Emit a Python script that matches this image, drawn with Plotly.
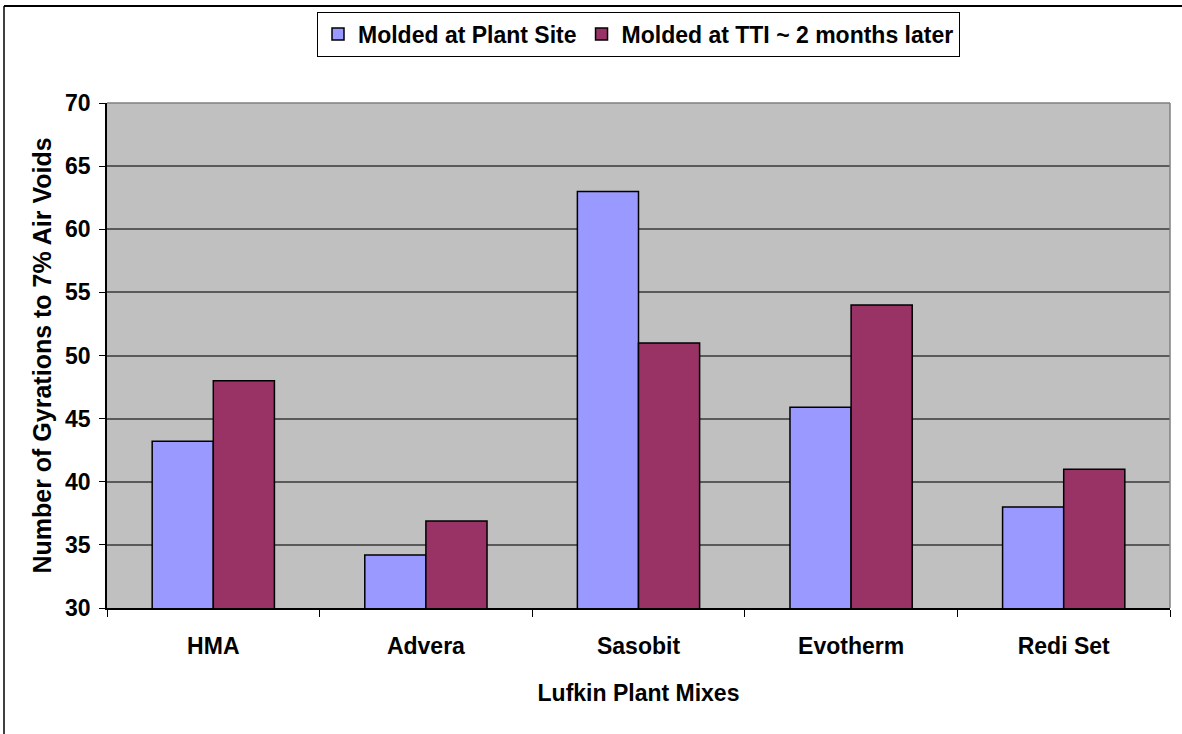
import plotly.graph_objects as go

categories = ["HMA", "Advera", "Sasobit", "Evotherm", "Redi Set"]
plant_site = [43.2, 34.2, 63.0, 45.9, 38.0]
tti_later = [48.0, 36.9, 51.0, 54.0, 41.0]
series_names = ["Molded at Plant Site", "Molded at TTI ~ 2 months later"]
y_ticks = [30, 35, 40, 45, 50, 55, 60, 65, 70]

FONT = "Liberation Sans, Arial, sans-serif"
FS = 23

L, R, T, B = 107, 12, 103, 126
WIDTH, HEIGHT = 1182, 734

fig = go.Figure()
fig.add_trace(go.Bar(x=categories, y=plant_site, name=series_names[0],
                     marker=dict(color="#9999FF", line=dict(color="black", width=1.5))))
fig.add_trace(go.Bar(x=categories, y=tti_later, name=series_names[1],
                     marker=dict(color="#993366", line=dict(color="black", width=1.5))))

fig.update_layout(
    width=WIDTH, height=HEIGHT,
    margin=dict(l=L, r=R, t=T, b=B, autoexpand=False),
    paper_bgcolor="white", plot_bgcolor="#C0C0C0",
    barmode="group", bargap=0.425, bargroupgap=0,
    font=dict(family=FONT, size=FS, color="black"),
    legend=dict(orientation="h", x=0.5, xanchor="center",
                yref="container", y=1 - 34 / HEIGHT, yanchor="middle",
                bordercolor="black", borderwidth=1, bgcolor="white",
                font=dict(family=FONT, size=FS, color="black", weight="bold"),
                itemwidth=30, tracegroupgap=0),
    showlegend=True,
)
fig.update_xaxes(
    type="category", tickson="boundaries", ticks="outside", ticklen=7, tickcolor="black",
    showline=True, linecolor="black", linewidth=1.5, mirror=False, showgrid=False,
    automargin=True, ticklabelstandoff=17,
    tickfont=dict(family=FONT, size=FS, color="black", weight="bold"),
    title=dict(text="<b>Lufkin Plant Mixes</b>", font=dict(family=FONT, size=FS), standoff=27),
)
fig.update_yaxes(
    range=[30, 70], tickvals=y_ticks, ticks="outside", ticklen=6, tickcolor="black",
    showline=True, linecolor="black", linewidth=1.5, showgrid=True, gridcolor="#5A5A5A",
    gridwidth=1.5, zeroline=False, automargin=True, ticklabelstandoff=4,
    tickfont=dict(family=FONT, size=FS, color="black", weight="bold"),
    title=dict(text="<b>Number of Gyrations to 7% Air Voids</b>", font=dict(family=FONT, size=25), standoff=6),
)
# plot-area right/top border (gray)
fig.add_shape(type="line", xref="paper", yref="paper", x0=1, x1=1, y0=0, y1=1,
              line=dict(color="#808080", width=1.5))
fig.add_shape(type="line", xref="paper", yref="paper", x0=0, x1=1, y0=1, y1=1,
              line=dict(color="#808080", width=1.5))
# outer chart border (top and left)
W = WIDTH - L - R
H = HEIGHT - T - B
fig.add_shape(type="line", xref="paper", yref="paper",
              x0=(4 - L) / W, x1=(WIDTH - L) / W, y0=1 + (T - 6) / H, y1=1 + (T - 6) / H,
              line=dict(color="black", width=2))
fig.add_shape(type="line", xref="paper", yref="paper",
              x0=(4 - L) / W, x1=(4 - L) / W, y0=-B / H, y1=1 + (T - 6) / H,
              line=dict(color="black", width=1.5))

fig.write_html("out.html", config={"displayModeBar": False},
               post_script="document.body.style.margin='0';document.body.style.overflow='hidden';")
